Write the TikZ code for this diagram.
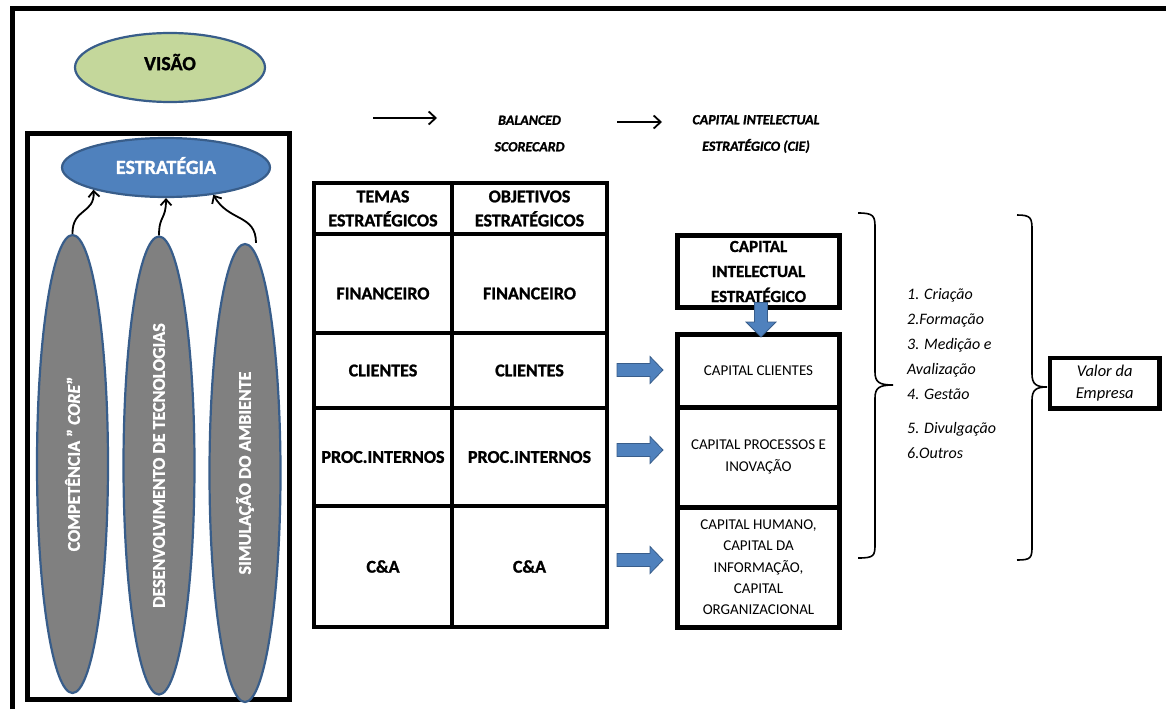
\documentclass[tikz,border=0pt]{standalone}
\usepackage{fontspec}
\setmainfont{Carlito}[BoldFont={Carlito Bold}, ItalicFont={Carlito Italic}, BoldItalicFont={Carlito Bold Italic},
  BoldFeatures={FakeBold=1.2}, BoldItalicFeatures={FakeBold=1.2}]
\usetikzlibrary{shapes.geometric,arrows.meta,calc}

\definecolor{rimblue}{RGB}{56,93,138}
\definecolor{midblue}{RGB}{79,129,189}
\definecolor{palegreen}{RGB}{196,215,155}
\definecolor{pillgray}{RGB}{128,128,128}

\newcommand\fsz[2]{\fontsize{#1}{#2}\selectfont}

% wide block arrows (filled body with thin rim)
\newcommand\blockright[2]{%
  \filldraw[blockarr] let \p1=#1, \p2=#2 in
    (\x1,\y1+6.5pt) -- (\x2-13pt,\y1+6.5pt) -- (\x2-13pt,\y1+13.5pt) -- (\x2,\y1)
    -- (\x2-13pt,\y1-13.5pt) -- (\x2-13pt,\y1-6.5pt) -- (\x1,\y1-6.5pt) -- cycle;}
\newcommand\blockdown[2]{%
  \filldraw[blockarr] let \p1=#1, \p2=#2 in
    (\x1-6.5pt,\y1) -- (\x1-6.5pt,\y2+15pt) -- (\x1-15pt,\y2+15pt) -- (\x1,\y2)
    -- (\x1+15pt,\y2+15pt) -- (\x1+6.5pt,\y2+15pt) -- (\x1+6.5pt,\y1) -- cycle;}

\tikzset{
  outerline/.style={line width=4.5pt},
  oval/.style={ellipse, draw=rimblue, line width=2.2pt, inner sep=0pt},
  pill/.style={oval, fill=pillgray, text=white, rotate=90,
    minimum width=458pt, minimum height=71pt, font=\bfseries\fsz{18}{22}},
  tcell/.style={rectangle, draw, line width=4.5pt, inner sep=0pt, outer sep=0pt,
    align=center, font=\bfseries\fsz{18}{24}},
  ccell/.style={rectangle, draw, line width=5pt, inner sep=0pt, outer sep=0pt,
    align=center, font=\fsz{15}{21.3}},
  toplabel/.style={align=center, font=\bfseries\itshape\fsz{14}{26.5}},
  flowarrow/.style={line width=1.8pt, -{Straight Barb[length=7pt,width=13pt]}},
  growth/.style={line width=1.8pt, -{Straight Barb[length=6pt,width=11pt]}},
  blockarr/.style={fill=midblue, draw=rimblue, line width=0.8pt},
  bracepath/.style={line width=1.6pt},
}

\begin{document}
\begin{tikzpicture}[x=1pt,y=-1pt]
\useasboundingbox (0,0) rectangle (1166,709);

% page frame
\draw[outerline] (12.5,709) -- (12.5,8.5) -- (1166,8.5);

% vision
\node[oval, fill=palegreen, minimum width=190pt, minimum height=69pt, text depth=11pt,
  font=\bfseries\fsz{20}{24}] (vis) at (170,67.5) {VISÃO};

% strategy block
\draw[line width=5pt] (27.5,133.5) rectangle (289.5,699.5);
\node[oval, fill=midblue, text=white, minimum width=208pt, minimum height=59pt, text depth=4pt,
  font=\bfseries\fsz{20}{24}] (est) at (166,167.5) {ESTRATÉGIA};

\node[pill] (p1) at (72.5,464) {COMPETÊNCIA " \textit{CORE}"};
\node[pill] (p2) at (159,465.5) {DESENVOLVIMENTO DE TECNOLOGIAS};
\node[pill] (p3) at (245,473) {SIMULAÇÃO DO AMBIENTE};

\draw[growth] (p1.east) .. controls (72,208) and (95,214) .. (est.197);
\draw[growth] (p2.east) .. controls (159,215) and (166,220) .. (est.south);
\draw[growth] ($(p3.east)+(11,0)$) .. controls (256,214) and (229,222) .. (est.-30);

% flow labels
\node[toplabel] (bsc) at (529.5,133.5) {BALANCED\\SCORECARD};
\node[toplabel] (cielbl) at (756,134) {CAPITAL INTELECTUAL\\ESTRATÉGICO (CIE)};
\coordinate (f1a) at (373,118);
\coordinate (f1b) at (437,118);
\coordinate (f2a) at (617,122);
\coordinate (f2b) at (662,122);
\draw[flowarrow] (f1a) -- (f1b);
\draw[flowarrow] (f2a) -- (f2b);

% themes / objectives table
\node[tcell, minimum width=138pt, minimum height=51pt] (t0) at (383,208.5) {TEMAS\\ESTRATÉGICOS};
\node[tcell, minimum width=155pt, minimum height=51pt] (o0) at (529.5,208.5) {OBJETIVOS\\ESTRATÉGICOS};
\node[tcell, minimum width=138pt, minimum height=99pt,
  label={[yshift=-10pt, font=\bfseries\fsz{18}{24}]center:FINANCEIRO}] (t1) at (383,283.5) {};
\node[tcell, minimum width=155pt, minimum height=99pt,
  label={[yshift=-10pt, font=\bfseries\fsz{18}{24}]center:FINANCEIRO}] (o1) at (529.5,283.5) {};
\node[tcell, minimum width=138pt, minimum height=75pt] (t2) at (383,370.5) {CLIENTES};
\node[tcell, minimum width=155pt, minimum height=75pt] (o2) at (529.5,370.5) {CLIENTES};
\node[tcell, minimum width=138pt, minimum height=98pt] (t3) at (383,457) {PROC.INTERNOS};
\node[tcell, minimum width=155pt, minimum height=98pt] (o3) at (529.5,457) {PROC.INTERNOS};
\node[tcell, minimum width=138pt, minimum height=121pt] (t4) at (383,566.5) {C\&A};
\node[tcell, minimum width=155pt, minimum height=121pt] (o4) at (529.5,566.5) {C\&A};

% intellectual capital column
\node[ccell, minimum width=162pt, minimum height=72pt, font=\bfseries\fsz{17}{25}]
  (cie) at (758.5,271.5) {CAPITAL\\INTELECTUAL\\ESTRATÉGICO};
\node[ccell, minimum width=162pt, minimum height=72.5pt] (k1) at (758.5,370.75) {CAPITAL CLIENTES};
\node[ccell, minimum width=162pt, minimum height=100pt] (k2) at (758.5,457) {CAPITAL PROCESSOS E\\INOVAÇÃO};
\node[ccell, minimum width=162pt, minimum height=120.5pt] (k3) at (758.5,567.25)
  {CAPITAL HUMANO,\\CAPITAL DA\\INFORMAÇÃO,\\CAPITAL\\ORGANIZACIONAL};

\blockdown{($(cie.south)+(2.5,-5)$)}{($(k1.north)+(2.5,2.5)$)}
\blockright{($(o2.east)+(10,-0.5)$)}{($(k1.west)+(-14.5,-0.5)$)}
\blockright{($(o3.east)+(10,-7)$)}{($(k2.west)+(-14.5,-7)$)}
\blockright{($(o4.east)+(10,-6.5)$)}{($(k3.west)+(-14.5,-6.5)$)}

% braces
\draw[bracepath] (858,213) .. controls (874,213) and (875,216) .. (875,228)
  -- (875,372) .. controls (875,382) and (879,385) .. (893,385)
  .. controls (879,385) and (875,388) .. (875,398)
  -- (875,544) .. controls (875,556) and (874,558) .. (858,558);
\draw[bracepath] (1017,215) .. controls (1031,215) and (1032,218) .. (1032,230)
  -- (1032,374) .. controls (1032,384) and (1036,387) .. (1047,387)
  .. controls (1036,387) and (1032,390) .. (1032,400)
  -- (1032,546) .. controls (1032,558) and (1031,560) .. (1017,560);

% management steps
\node[align=left, anchor=north west, inner sep=0pt, font=\itshape\fsz{16}{25}] (steps)
  at (907,288.5) {1. Criação\\2.Formação\\3. Medição e\\Avalização\\4. Gestão\\[9pt]5. Divulgação\\6.Outros};

% company value
\node[rectangle, draw, line width=4.5pt, inner sep=0pt, minimum width=109.5pt,
  minimum height=50.5pt, align=center, font=\itshape\fsz{16.5}{22}] (valor)
  at (1104.75,383.25) {Valor da\\Empresa};
\end{tikzpicture}
\end{document}
